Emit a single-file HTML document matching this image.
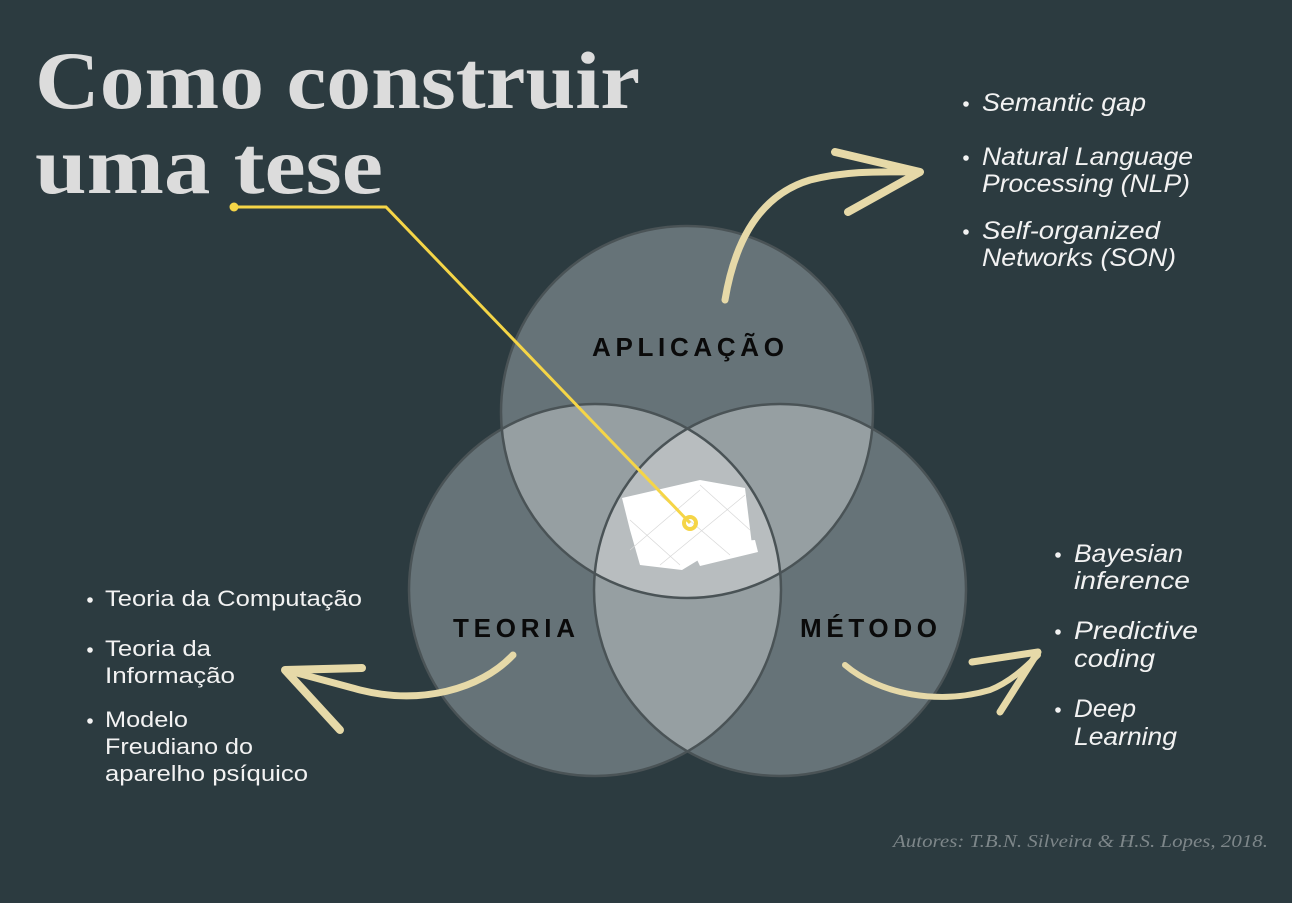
<!DOCTYPE html>
<html><head><meta charset="utf-8"><style>
html,body{margin:0;padding:0;background:#2c3b40;}
svg{display:block}
.li{font-family:"Liberation Sans",sans-serif;font-style:italic;font-size:25px;fill:#f2f2f2;}
.lu{font-family:"Liberation Sans",sans-serif;font-size:22px;fill:#f2f2f2;}
.lab{font-family:"Liberation Sans",sans-serif;font-weight:bold;font-size:26px;fill:#0a0a0a;}
</style></head><body>
<svg width="1292" height="903" viewBox="0 0 1292 903" xmlns="http://www.w3.org/2000/svg">
<defs>
<clipPath id="cA"><circle cx="687" cy="412" r="186"/></clipPath>
<clipPath id="cL"><circle cx="595" cy="590" r="186"/></clipPath>
<clipPath id="cR"><circle cx="780" cy="590" r="186"/></clipPath>
</defs>
<rect width="1292" height="903" fill="#2c3b40"/>
<text x="35" y="108" font-family="Liberation Serif,serif" font-weight="bold" font-size="82" fill="#dcdcdc" textLength="605" lengthAdjust="spacingAndGlyphs">Como construir</text>
<text x="35" y="193" font-family="Liberation Serif,serif" font-weight="bold" font-size="82" fill="#dcdcdc" textLength="348" lengthAdjust="spacingAndGlyphs">uma tese</text>

<circle cx="687" cy="412" r="186" fill="#667378"/>
<circle cx="595" cy="590" r="186" fill="#667378"/>
<circle cx="780" cy="590" r="186" fill="#667378"/>
<g clip-path="url(#cA)"><circle cx="595" cy="590" r="186" fill="#969fa2"/><circle cx="780" cy="590" r="186" fill="#969fa2"/></g>
<g clip-path="url(#cL)"><circle cx="780" cy="590" r="186" fill="#969fa2"/></g>
<g clip-path="url(#cA)"><g clip-path="url(#cL)"><circle cx="780" cy="590" r="186" fill="#b8bdbf"/></g></g>
<g fill="none" stroke="#4a5356" stroke-width="2.5">
<circle cx="687" cy="412" r="186"/><circle cx="595" cy="590" r="186"/><circle cx="780" cy="590" r="186"/>
</g>
<g fill="#ffffff">
<polygon points="622,498 700,480 745,488 752,545 705,556 682,570 640,565 630,530"/>
<polygon points="690,545 755,540 758,552 700,566"/>
</g>
<g stroke="#d8d8d8" stroke-width="0.7" fill="none">
<line x1="630" y1="520" x2="680" y2="565"/><line x1="660" y1="495" x2="730" y2="555"/><line x1="700" y1="485" x2="750" y2="530"/>
<line x1="630" y1="550" x2="700" y2="490"/><line x1="660" y1="565" x2="745" y2="495"/>
</g>
<polyline points="234,207 386,207 690,523" fill="none" stroke="#f5d547" stroke-width="3"/>
<circle cx="234" cy="207" r="4.5" fill="#f5d547"/>
<circle cx="690" cy="523" r="6" fill="none" stroke="#f5d547" stroke-width="4"/>

<text class="lab" x="592" y="356" textLength="192" lengthAdjust="spacing">APLICAÇÃO</text>
<text class="lab" x="453" y="637" textLength="122" lengthAdjust="spacing">TEORIA</text>
<text class="lab" x="800" y="637" textLength="137" lengthAdjust="spacing">MÉTODO</text>

<g fill="none" stroke="#e6d9a8" stroke-linecap="round" stroke-linejoin="round">
<path d="M725,300 C735,240 760,195 810,180 C850,170 885,172 915,172" stroke-width="7"/>
<path d="M835,152 L920,172 L848,212" stroke-width="8"/>
<path d="M513,655 C480,690 420,705 360,690 C330,682 305,675 285,670" stroke-width="7"/>
<path d="M362,668 L285,670 L340,730" stroke-width="8"/>
<path d="M845,665 C880,695 940,705 990,690 C1010,682 1025,668 1038,655" stroke-width="6"/>
<path d="M972,662 L1038,652 L1000,712" stroke-width="7"/>
</g>

<g class="li">
<text x="982" y="111" textLength="164" lengthAdjust="spacingAndGlyphs">Semantic gap</text>
<text x="982" y="165" textLength="211" lengthAdjust="spacingAndGlyphs">Natural Language</text>
<text x="982" y="192" textLength="208" lengthAdjust="spacingAndGlyphs">Processing (NLP)</text>
<text x="982" y="239" textLength="178" lengthAdjust="spacingAndGlyphs">Self-organized</text>
<text x="982" y="266" textLength="194" lengthAdjust="spacingAndGlyphs">Networks (SON)</text>
<text x="1074" y="562" textLength="109" lengthAdjust="spacingAndGlyphs">Bayesian</text>
<text x="1074" y="589" textLength="116" lengthAdjust="spacingAndGlyphs">inference</text>
<text x="1074" y="639" textLength="124" lengthAdjust="spacingAndGlyphs">Predictive</text>
<text x="1074" y="667" textLength="81" lengthAdjust="spacingAndGlyphs">coding</text>
<text x="1074" y="717" textLength="62" lengthAdjust="spacingAndGlyphs">Deep</text>
<text x="1074" y="745" textLength="103" lengthAdjust="spacingAndGlyphs">Learning</text>
</g>
<g fill="#f2f2f2">
<circle cx="966" cy="104" r="2.8"/><circle cx="966" cy="158" r="2.8"/><circle cx="966" cy="232" r="2.8"/>
<circle cx="1058" cy="555" r="2.8"/><circle cx="1058" cy="632" r="2.8"/><circle cx="1058" cy="710" r="2.8"/>
<circle cx="90" cy="600" r="2.8"/><circle cx="90" cy="650" r="2.8"/><circle cx="90" cy="721" r="2.8"/>
</g>
<g class="lu">
<text x="105" y="606" textLength="257" lengthAdjust="spacingAndGlyphs">Teoria da Computação</text>
<text x="105" y="656" textLength="106" lengthAdjust="spacingAndGlyphs">Teoria da</text>
<text x="105" y="683" textLength="130" lengthAdjust="spacingAndGlyphs">Informação</text>
<text x="105" y="727" textLength="83" lengthAdjust="spacingAndGlyphs">Modelo</text>
<text x="105" y="754" textLength="148" lengthAdjust="spacingAndGlyphs">Freudiano do</text>
<text x="105" y="781" textLength="203" lengthAdjust="spacingAndGlyphs">aparelho psíquico</text>
</g>
<text x="893" y="847" font-family="Liberation Serif,serif" font-style="italic" font-size="18" fill="#7d8689" textLength="375" lengthAdjust="spacingAndGlyphs">Autores: T.B.N. Silveira &amp; H.S. Lopes, 2018.</text>
</svg>
</body></html>
